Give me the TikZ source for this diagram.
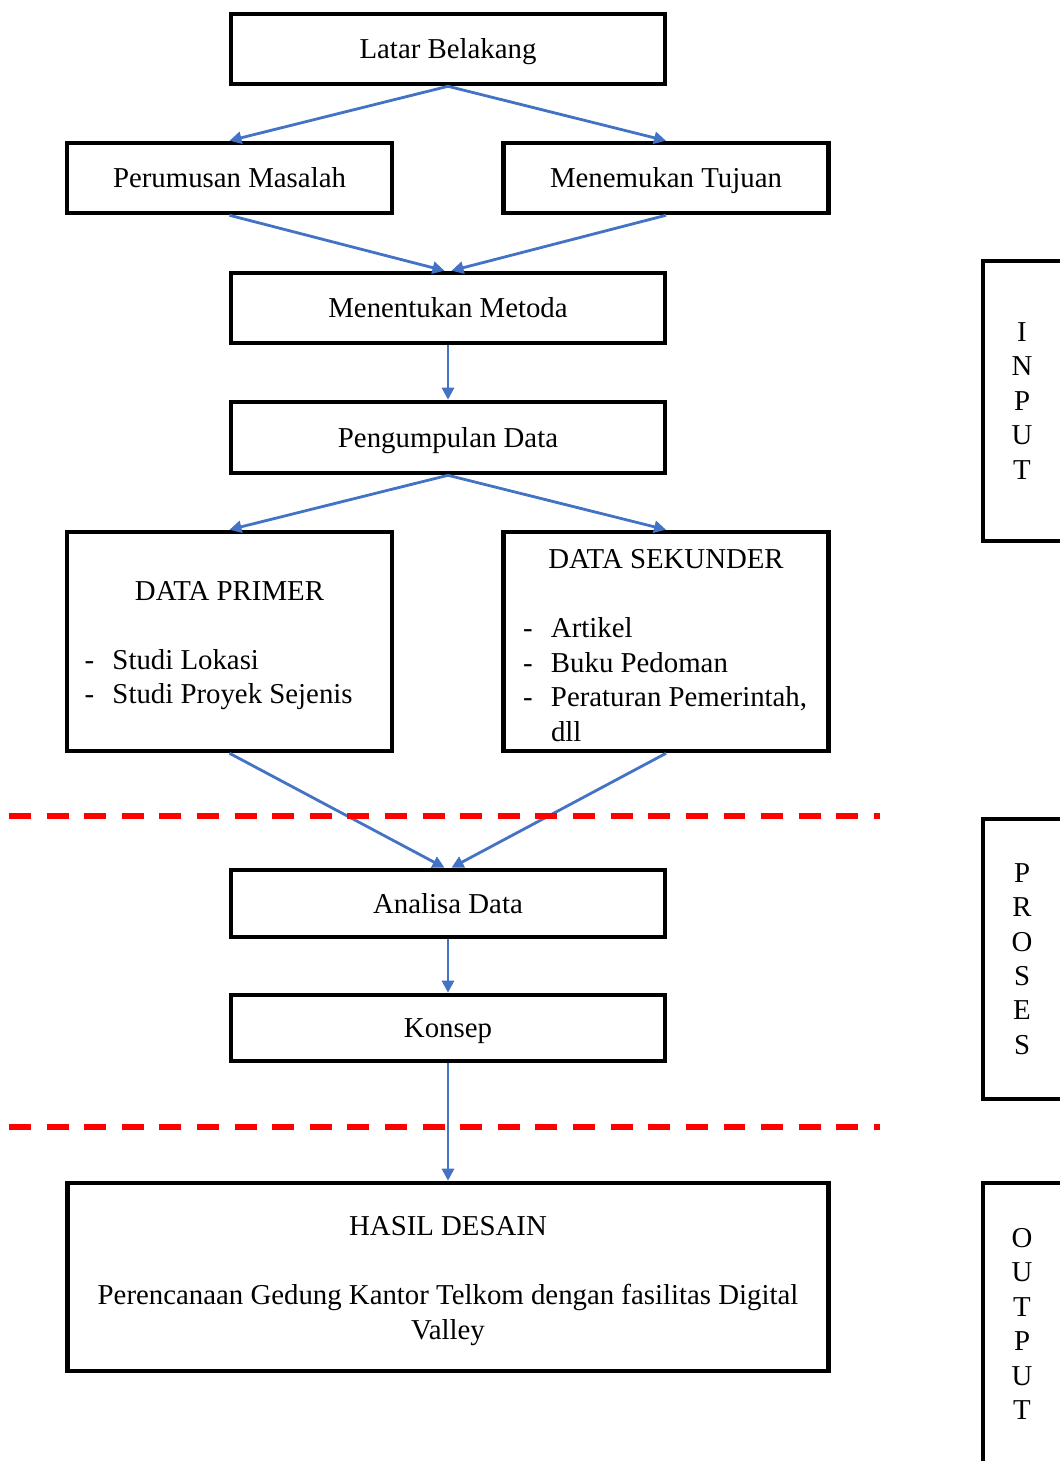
\documentclass[tikz,border=0pt]{standalone}
\usepackage{fontspec}
\setmainfont{Liberation Serif}
\usetikzlibrary{arrows.meta}
\definecolor{cFlow}{RGB}{68, 114, 196}
\definecolor{cCut}{RGB}{255, 0, 0}
\newcommand{\dashItem}[2][5.8cm]{\makebox[#1][l]{\makebox[0.56cm][l]{-}#2}}
\newcommand{\topStrut}{\rule{0pt}{15.5pt}}
\tikzset{
    font=\fontsize{16.4}{19.6}\selectfont,
    % kotak tahapan
    stepBox/.style={
        rectangle, draw=black, line width=2.6pt,
        minimum width=8.68cm, minimum height=1.4cm,
        inner sep=0pt, align=center
    },
    % satu baris teks
    oneLine/.style={
        text height=14.5pt, text depth=3.5pt
    },
    % kotak setengah lebar
    halfBox/.style={
        stepBox, minimum width=6.5cm
    },
    % kotak berisi daftar
    listBox/.style={
        halfBox, minimum height=4.38cm, align=left
    },
    % kotak samping (input / proses / output)
    sideBox/.style={
        draw=black, line width=2.6pt
    },
    sideText/.style={
        align=center, inner sep=0pt
    },
    % garis batas tahap
    cutLine/.style={
        draw=cCut, line width=3.2pt, dash pattern=on 12.5pt off 8.9pt
    },
    % panah
    flow/.style={
        -{Triangle[length=0.24cm, width=0.24cm]}, line width=1.6pt, draw=cFlow
    }
}

\begin{document}
\begin{tikzpicture}

	\useasboundingbox (0,0) rectangle (21.18,-29.22);

	% 1. Tahap input
	\node[stepBox, oneLine] (latar) at (8.96,-0.98) {Latar Belakang};
	\node[halfBox, oneLine] (rumusan) at (4.59,-3.56) {Perumusan Masalah};
	\node[halfBox, oneLine] (tujuan) at (13.32,-3.56) {Menemukan Tujuan};
	\node[stepBox, oneLine] (metoda) at (8.96,-6.16) {Menentukan Metoda};
	\node[stepBox, oneLine, minimum height=1.42cm] (kumpul) at (8.96,-8.75) {Pengumpulan Data};

	\node[listBox] (primer) at (4.59,-12.83) {
		\topStrut\makebox[5.8cm]{DATA PRIMER}\\[0.69cm]
		\dashItem{Studi Lokasi}\\
		\dashItem{Studi Proyek Sejenis}
	};

	\node[listBox] (sekunder) at (13.32,-12.83) {
		\topStrut\makebox[5.72cm]{DATA SEKUNDER}\\[0.69cm]
		\dashItem[5.72cm]{Artikel}\\
		\dashItem[5.72cm]{Buku Pedoman}\\
		\dashItem[5.72cm]{Peraturan Pemerintah,}\\
		\makebox[5.72cm][l]{\hspace*{0.56cm}dll}
	};

	% 2. Tahap proses
	\node[stepBox, oneLine, minimum height=1.34cm] (analisa) at (8.96,-18.07) {Analisa Data};
	\node[stepBox, oneLine, minimum height=1.32cm] (konsep) at (8.96,-20.56) {Konsep};

	% 3. Tahap output
	\node[stepBox, minimum width=15.22cm, minimum height=3.76cm] (hasil) at (8.96,-25.54) {
		\topStrut HASIL DESAIN\\[0.69cm]
		Perencanaan Gedung Kantor Telkom dengan fasilitas Digital\\
		Valley
	};

	% 4. Panah
	\draw[flow] (latar.south) -- (rumusan.north);
	\draw[flow] (latar.south) -- (tujuan.north);
	\draw[flow] (rumusan.south) -- ([xshift=-0.07cm]metoda.north);
	\draw[flow] (tujuan.south) -- ([xshift=0.07cm]metoda.north);
	\draw[flow] (metoda) -- (kumpul);
	\draw[flow] (kumpul.south) -- (primer.north);
	\draw[flow] (kumpul.south) -- (sekunder.north);
	\draw[flow] (primer.south) -- ([xshift=-0.07cm]analisa.north);
	\draw[flow] (sekunder.south) -- ([xshift=0.07cm]analisa.north);
	\draw[flow] (analisa) -- (konsep);
	\draw[flow] (konsep) -- (hasil);

	% 5. Garis batas
	\draw[cutLine] (0.18,-16.32) -- (17.6,-16.32);
	\draw[cutLine] (0.18,-22.54) -- (17.6,-22.54);

	% 6. Keterangan samping
	\draw[sideBox] (19.66,-5.22) rectangle (22,-10.82);
	\node[sideText] (input) at (20.44,-8.02) {I\\N\\P\\U\\T};

	\draw[sideBox] (19.66,-16.38) rectangle (22,-21.98);
	\node[sideText] (proses) at (20.44,-19.18) {P\\R\\O\\S\\E\\S};

	\draw[sideBox] (19.66,-23.66) rectangle (22,-30);
	\node[sideText] (output) at (20.44,-26.48) {O\\U\\T\\P\\U\\T};

\end{tikzpicture}
\end{document}
